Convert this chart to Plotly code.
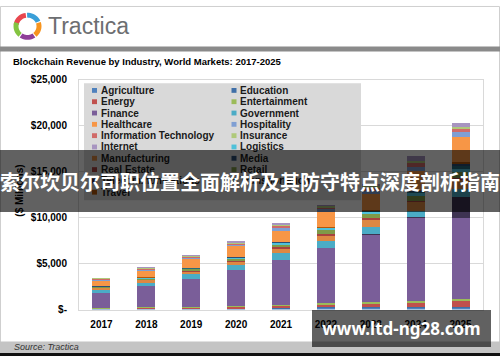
import math
import plotly.graph_objects as go

W, H = 500, 362


def px(x):
    return x / W


def py(y):
    return 1 - y / H


# ---------------- data ----------------
years = ["2017", "2018", "2019", "2020", "2021", "2022", "2023", "2024", "2025"]

agriculture = [30, 40, 50, 70, 80, 180, 180, 200, 180]
education = [10, 20, 30, 40, 40, 100, 100, 100, 100]
energy = [60, 100, 140, 200, 230, 250, 350, 420, 630]
entertainment = [60, 80, 100, 130, 140, 175, 210, 210, 280]
finance = [1640, 2290, 3000, 3830, 4890, 5980, 7310, 9040, 8790]
telecommunications = [20, 30, 40, 50, 40, 60, 80, 100, 2320]
government = [280, 350, 530, 530, 700, 770, 810, 700, 800]
manufacturing = [200, 270, 250, 300, 530, 460, 740, 900, 1000]
real_estate = [60, 80, 80, 150, 175, 250, 175, 200, 250]
retail = [80, 100, 150, 200, 250, 390, 420, 500, 600]
logistics = [40, 60, 70, 130, 175, 250, 280, 300, 400]
transportation = [20, 30, 40, 30, 30, 30, 60, 100, 300]
media = [20, 30, 40, 30, 30, 30, 60, 100, 250]
travel = [30, 40, 50, 40, 40, 30, 80, 100, 200]
healthcare = [600, 700, 950, 1160, 1230, 1690, 1760, 2100, 2670]
hospitality = [100, 130, 120, 170, 300, 270, 350, 500, 560]
information_technology = [80, 100, 120, 120, 200, 180, 250, 350, 350]
insurance = [60, 80, 90, 110, 180, 140, 200, 300, 250]
internet = [60, 100, 110, 170, 200, 190, 250, 500, 420]

y_tick_values = [0, 5000, 10000, 15000, 20000, 25000]
y_tick_labels = ["$-", "$5,000", "$10,000", "$15,000", "$20,000", "$25,000"]

# stacking order (bottom -> top)
stack = [
    ("Agriculture", agriculture),
    ("Education", education),
    ("Energy", energy),
    ("Entertainment", entertainment),
    ("Finance", finance),
    ("Telecommunications", telecommunications),
    ("Government", government),
    ("Manufacturing", manufacturing),
    ("Real Estate", real_estate),
    ("Retail", retail),
    ("Logistics", logistics),
    ("Transportation", transportation),
    ("Media", media),
    ("Travel", travel),
    ("Healthcare", healthcare),
    ("Hospitality", hospitality),
    ("Information Technology", information_technology),
    ("Insurance", insurance),
    ("Internet", internet),
]

# ---------------- styles ----------------
colors = {
    "Agriculture": "#4F81BD",
    "Education": "#3F6FA8",
    "Energy": "#C0504D",
    "Entertainment": "#9BBB59",
    "Finance": "#7A5E99",
    "Government": "#4BACC6",
    "Healthcare": "#F79646",
    "Hospitality": "#7F9FD3",
    "Information Technology": "#D06A68",
    "Insurance": "#AFC97A",
    "Internet": "#A794C0",
    "Logistics": "#4FC1D9",
    "Manufacturing": "#DD8843",
    "Media": "#2C4D75",
    "Real Estate": "#A8423F",
    "Retail": "#7F9A48",
    "Telecommunications": "#3E3352",
    "Transportation": "#276A7C",
    "Travel": "#B65708",
}

BASE_FONT = "Liberation Sans, Arial, sans-serif"

fig = go.Figure()
for name, vals in stack:
    fig.add_trace(go.Bar(
        x=years, y=vals, name=name,
        marker=dict(color=colors[name], line=dict(width=0)),
        width=0.4, showlegend=False,
    ))

fig.update_layout(
    width=W, height=H, autosize=False,
    margin=dict(l=0, r=0, t=0, b=0),
    paper_bgcolor="white", plot_bgcolor="white",
    barmode="stack", showlegend=False,
    font=dict(family=BASE_FONT, color="#000000"),
)
fig.update_xaxes(
    domain=[px(79), px(483)], type="category", range=[-0.5, 8.5],
    showgrid=False, showline=True, mirror=True, linecolor="#D9D9D9", linewidth=1,
    ticks="outside", ticklen=5, tickcolor="rgba(0,0,0,0)",
    tickfont=dict(family=BASE_FONT, size=10, color="#000000", weight="bold"),
    fixedrange=True,
)
fig.update_yaxes(
    domain=[py(314), py(76.5)], range=[0, 25000],
    tickvals=y_tick_values, ticktext=y_tick_labels,
    showgrid=True, gridcolor="#D9D9D9", gridwidth=1, zeroline=False,
    showline=True, mirror=True, linecolor="#D9D9D9", linewidth=1,
    ticks="outside", ticklen=9, tickcolor="rgba(0,0,0,0)",
    tickfont=dict(family=BASE_FONT, size=10, color="#000000", weight="bold"),
    fixedrange=True,
)

shapes = []
annotations = []


def rect(x0, y0, x1, y1, fill, line=None, layer="below"):
    d = dict(type="rect", xref="paper", yref="paper",
             x0=px(x0), x1=px(x1), y0=py(y1), y1=py(y0),
             fillcolor=fill, layer=layer, line=dict(width=0))
    if line:
        d["line"] = dict(width=1, color=line)
    return d


# frame, header rule, source band
shapes.append(rect(0.5, 0.5, 499.5, 361.5, "rgba(0,0,0,0)", line="#CFCFCF", layer="below"))
shapes.append(rect(0, 42, 500, 47, "#8A8A8A"))
shapes.append(rect(0, 347, 500, 359, "#C4C4C4"))
shapes.append(rect(0, 359, 500, 362, "#111111"))

# logo ring (Tractica)
logo_segments = [(-82, -8, "#E8474F"), (-2, 66, "#3A9FD8"), (72, 140, "#F7941E"),
                 (146, 214, "#8E3F98"), (220, 288, "#84C441")]
cx, cy, ro, ri = 27.5, 21.0, 14.0, 9.0
for a0, a1, col in logo_segments:
    pts = []
    n = 10
    for k in range(n + 1):
        a = math.radians(a0 + (a1 - a0) * k / n)
        pts.append((cx + ro * math.sin(a), cy - ro * math.cos(a)))
    for k in range(n, -1, -1):
        a = math.radians(a0 + (a1 - a0) * k / n)
        pts.append((cx + ri * math.sin(a), cy - ri * math.cos(a)))
    path = "M " + " L ".join(f"{px(x):.5f},{py(y):.5f}" for x, y in pts) + " Z"
    shapes.append(dict(type="path", xref="paper", yref="paper", path=path,
                       fillcolor=col, line=dict(width=0), layer="below"))

annotations.append(dict(xref="paper", yref="paper", x=px(47), y=py(20.5),
                        xanchor="left", yanchor="middle", showarrow=False,
                        text="Tractica", borderpad=0,
                        font=dict(family=BASE_FONT, size=23, color="#6D6E71")))
annotations.append(dict(xref="paper", yref="paper", x=px(12), y=py(57),
                        xanchor="left", yanchor="middle", showarrow=False, borderpad=0,
                        text="<b>Blockchain Revenue by Industry, World Markets: 2017-2025</b>",
                        font=dict(family=BASE_FONT, size=9.5, color="#000000")))
annotations.append(dict(xref="paper", yref="paper", x=px(20), y=py(191),
                        xanchor="center", yanchor="middle", showarrow=False, borderpad=0,
                        text="<b>($ Millions)</b>", textangle=-90,
                        font=dict(family=BASE_FONT, size=10, color="#000000")))

# custom legend (alphabetical, two columns, row-major)
legend_names = sorted(colors.keys())
shapes.append(rect(84, 80, 361, 201, "#D9D9D9", layer="above"))
for i, name in enumerate(legend_names):
    r, c = divmod(i, 2)
    yc = 87.3 + 11.7 * r
    mx = 92 if c == 0 else 231.5
    tx = 100 if c == 0 else 239
    shapes.append(rect(mx, yc - 2.5, mx + 5, yc + 2.5, colors[name], layer="above"))
    annotations.append(dict(xref="paper", yref="paper", x=px(tx), y=py(yc),
                            xanchor="left", yanchor="middle", showarrow=False,
                            borderpad=0, text=f"<b>{name}</b>",
                            font=dict(family=BASE_FONT, size=10, color="#1A1A1A")))

annotations.append(dict(xref="paper", yref="paper", x=px(13), y=py(353),
                        xanchor="left", yanchor="middle", showarrow=False, borderpad=0,
                        text="<i>Source: Tractica</i>",
                        font=dict(family=BASE_FONT, size=9, color="#333333")))

# overlay banner + watermark (drawn last, above everything)
annotations.append(dict(xref="paper", yref="paper", x=0.5, y=py(181),
                        xanchor="center", yanchor="middle", showarrow=False,
                        width=500, height=62, borderpad=0, borderwidth=0,
                        bgcolor="rgba(0,0,0,0.62)", align="center", valign="middle",
                        text="<b>索尔坎贝尔司职位置全面解析及其防守特点深度剖析指南</b>",
                        font=dict(family="Noto Sans CJK SC", size=20, color="#FFFFFF")))
annotations.append(dict(xref="paper", yref="paper", x=px(401.5), y=py(333.5),
                        xanchor="center", yanchor="middle", showarrow=False,
                        width=179, height=37, borderpad=0, borderwidth=0,
                        bgcolor="rgba(0,0,0,0.62)", align="center", valign="middle",
                        text="<b>www.ltd-ng28.com</b>",
                        font=dict(family="Noto Sans, DejaVu Sans, sans-serif", size=17, color="#FFFFFF")))

fig.update_layout(shapes=shapes, annotations=annotations)

fig.write_html("out.html", include_plotlyjs=True,
               config={"displayModeBar": False, "staticPlot": True},
               post_script="document.body.style.margin='0';document.body.style.overflow='hidden';")
